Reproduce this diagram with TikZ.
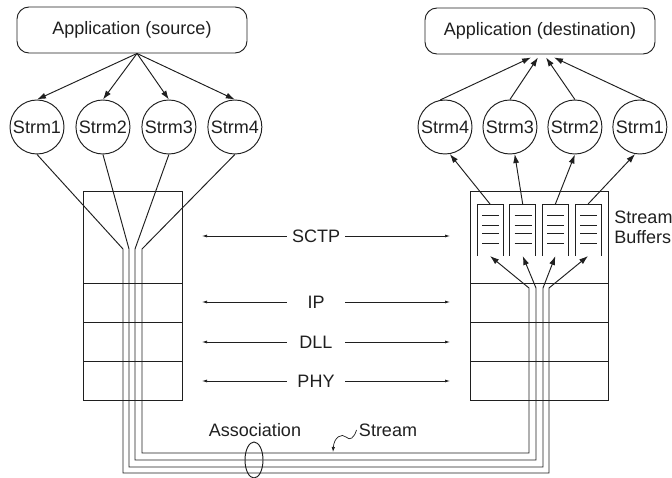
\documentclass[tikz,border=0pt]{standalone}
\usepackage{fontspec}
\setmainfont{Liberation Sans}
\usetikzlibrary{arrows.meta,positioning,shapes.geometric}
\definecolor{ink}{gray}{0.12}

\begin{document}
\begin{tikzpicture}[
    x=1pt, y=-1pt, ink, line width=0.95pt,
    every node/.style={font=\fontsize{18}{20}\selectfont, inner sep=2pt},
    appbox/.style={draw, rounded corners=12pt, minimum width=230pt, minimum height=46pt},
    strm/.style={draw, circle, inner sep=0pt, minimum size=54pt},
    layer/.style={draw, outer sep=0pt, minimum width=#1, minimum height=39pt},
    buffer/.style={inner sep=0pt, outer sep=0pt, minimum width=26pt, minimum height=52pt},
    lbl/.style={inner sep=0pt, minimum width=58pt},
    link/.style={-{Latex[length=9pt, width=6pt]}},
    layerlink/.style={-{Latex[length=5pt, width=3pt]}, line width=0.7pt, shorten >=20pt}
]
\useasboundingbox (0,0) rectangle (672,478);

% applications
\node[appbox] (src) at (132,30) {Application (source)};
\node[appbox] (dst) at (540,31) {Application (destination)};

% streams, source side
\node[strm] (sa1) at (37,127) {Strm1};
\node[strm, right=11pt of sa1] (sa2) {Strm2};
\node[strm, right=11pt of sa2] (sa3) {Strm3};
\node[strm, right=11pt of sa3] (sa4) {Strm4};

% streams, destination side
\node[strm] (da4) at (445,127) {Strm4};
\node[strm, right=10pt of da4] (da3) {Strm3};
\node[strm, right=10pt of da3] (da2) {Strm2};
\node[strm, right=10pt of da2] (da1) {Strm1};

% protocol stacks
\node[layer=99pt, minimum height=92pt] (lsctp) at (132.5,237) {};
\node[layer=99pt, below=0pt of lsctp] (lip) {};
\node[layer=99pt, below=0pt of lip] (ldll) {};
\node[layer=99pt, below=0pt of ldll] (lphy) {};
\node[layer=138pt, minimum height=92pt] (rsctp) at (539,237) {};
\node[layer=138pt, below=0pt of rsctp] (rip) {};
\node[layer=138pt, below=0pt of rip] (rdll) {};
\node[layer=138pt, below=0pt of rdll] (rphy) {};

% stream buffers
\node[buffer] (buf1) at (490,230) {};
\node[buffer, right=6.7pt of buf1] (buf2) {};
\node[buffer, right=6.7pt of buf2] (buf3) {};
\node[buffer, right=6.7pt of buf3] (buf4) {};
\foreach \b in {1,...,4} {
  \draw (buf\b.south west) |- (buf\b.north east) -- (buf\b.south east);
  \foreach \dy in {11,21,29,39}
    \draw ([xshift=5pt, yshift=-\dy pt]buf\b.north west) -- ([xshift=-4pt, yshift=-\dy pt]buf\b.north east);
}
\node[align=left, anchor=west] (buflbl) at (612,227) {Stream\\Buffers};

% layer labels
\node[lbl] (sctp) at (316,236) {SCTP};
\node[lbl] (ip) at (316,302) {IP};
\node[lbl] (dll) at (316,342) {DLL};
\node[lbl] (phy) at (316,381) {PHY};
\foreach \n in {sctp,ip,dll,phy} {
  \draw[layerlink] (\n) -- (\n -| l\n.east);
  \draw[layerlink] (\n) -- (\n -| r\n.west);
}

% application <-> streams
\foreach \i in {1,...,4}
  \draw[link] ([xshift=5pt]src.south) -- (sa\i.north);
\foreach \i/\a/\dx in {1/80/14, 2/90/6, 3/90/-2, 4/100/-9}
  \draw[link] (da\i.\a) -- ([xshift=\dx pt, yshift=-3pt]dst.south);
\foreach \b/\s/\a in {1/4/-80, 2/3/-80, 3/2/-90, 4/1/-100}
  \draw[link] (buf\b.north) -- (da\s.\a);

% the association
\foreach \i/\b/\lx/\rx/\by in {1/4/123/549/473, 2/3/129/543/467, 3/2/135/536/460, 4/1/142/529/453}
  \draw[link] (sa\i.south) -- (\lx,249) -- (\lx,\by) -- (\rx,\by) -- (\rx,288) -- (buf\b.south);

\node[draw, ellipse, inner sep=0pt, minimum width=18pt, minimum height=36pt] (ring) at (254,460) {};
\node (assoc) at (255,430) {Association};
\node (strmlbl) at (388,430) {Stream};
\coordinate (strmhit) at (333,452);
\draw[-{Latex[length=5pt, width=3.5pt]}, line width=0.7pt] (strmlbl.west)
  .. controls (354,438) and (350,441) .. (346,437)
  .. controls (342,433) and (334,437) .. (strmhit);
\end{tikzpicture}
\end{document}
